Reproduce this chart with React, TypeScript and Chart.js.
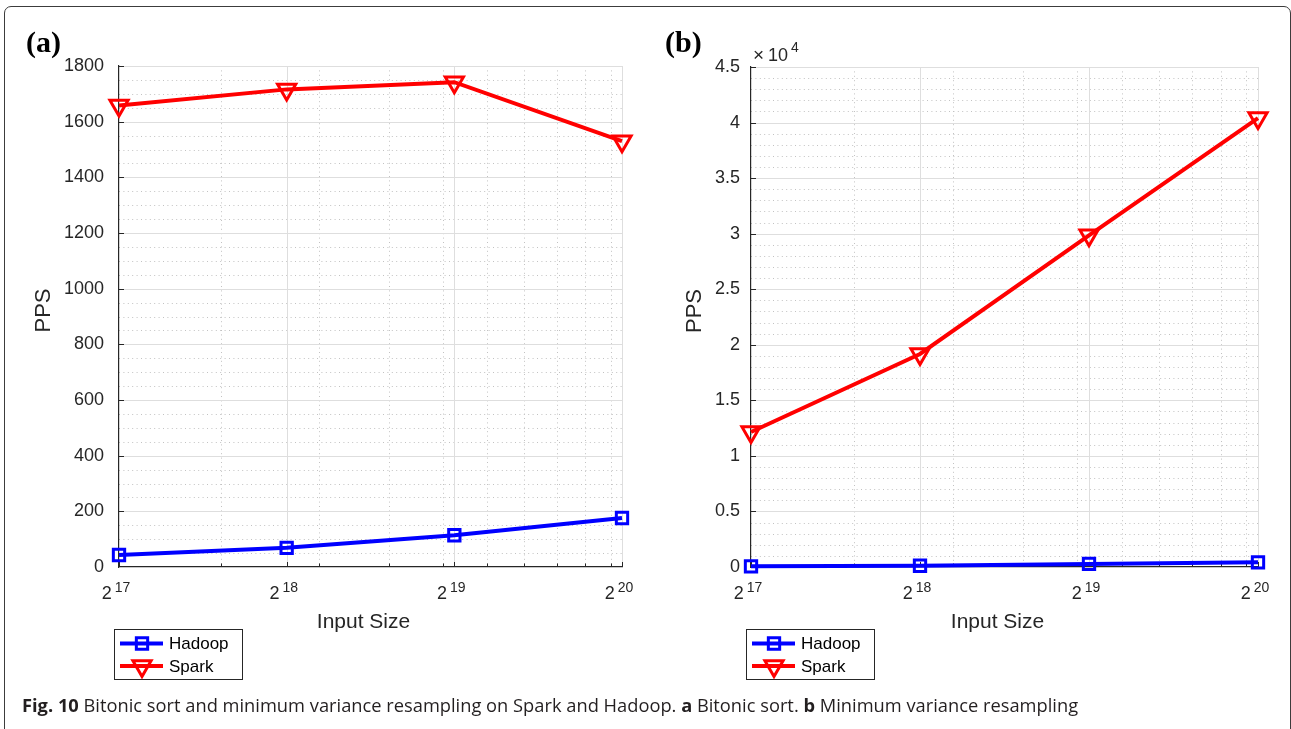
import React, { useEffect, useRef } from 'react';
import { Chart, registerables } from 'chart.js';

Chart.register(...registerables);

// ---- data ----
const exponents = [17, 18, 19, 20];
const inputSizes = [131072, 262144, 524288, 1048576];
const minorXTicks = [200000, 300000, 400000, 500000, 600000, 700000, 800000, 900000, 1000000];
const seriesNames = ['Hadoop', 'Spark'];
const hadoopBitonic = [43, 69, 114, 176];
const sparkBitonic = [1658, 1716, 1742, 1530];
const hadoopMVR = [60, 110, 280, 420];
const sparkMVR = [12150, 19170, 29850, 40400];
const xTitle = 'Input Size';
const yTitle = 'PPS';

const FONT = '"Liberation Sans", Arial, Helvetica, sans-serif';
const AX = '#262626';

type PanelCfg = {
  id: string;
  label: string;
  left: number;
  width: number;
  yMax: number;
  yMajor: number;
  yMinor: number;
  hadoop: number[];
  spark: number[];
  tickPad: number;
  yWidth: number;
  padRight: number;
  padTop: number;
  ppsX: number;
  labelX: number;
  divisor: number;
  showExp: boolean;
};

function drawMarker(ctx: CanvasRenderingContext2D, style: string, x: number, y: number, r: number, bw: number, color: string) {
  ctx.save();
  ctx.strokeStyle = color;
  ctx.lineWidth = bw;
  ctx.setLineDash([]);
  ctx.beginPath();
  if (style === 'rect') {
    const s = r * Math.SQRT1_2;
    ctx.rect(x - s, y - s, 2 * s, 2 * s);
  } else {
    for (let k = 0; k < 3; k++) {
      const ang = Math.PI + (k * 2 * Math.PI) / 3;
      const px = x + Math.sin(ang) * r;
      const py = y - Math.cos(ang) * r;
      if (k === 0) ctx.moveTo(px, py);
      else ctx.lineTo(px, py);
    }
    ctx.closePath();
  }
  ctx.stroke();
  ctx.restore();
}

function decorPlugin(cfg: PanelCfg) {
  return {
    id: 'decor_' + cfg.id,
    beforeDraw(chart: any) {
      const { ctx, chartArea: a } = chart;
      const xs = chart.scales.x;
      const ys = chart.scales.y;
      const snap = (p: number) => Math.round(p) + 0.5;
      const seg = (x1: number, y1: number, x2: number, y2: number) => {
        ctx.beginPath();
        ctx.moveTo(x1, y1);
        ctx.lineTo(x2, y2);
        ctx.stroke();
      };
      const n = Math.round(cfg.yMax / cfg.yMinor);
      const ratio = Math.round(cfg.yMajor / cfg.yMinor);
      ctx.save();
      ctx.lineWidth = 1;
      // minor grid (dotted)
      ctx.strokeStyle = '#c2c2c2';
      ctx.setLineDash([1, 3.4]);
      for (let i = 1; i < n; i++) {
        if (i % ratio) {
          const y = snap(ys.getPixelForValue(i * cfg.yMinor));
          seg(a.left, y, a.right, y);
        }
      }
      minorXTicks.forEach((v) => {
        const x = snap(xs.getPixelForValue(v));
        seg(x, a.top, x, a.bottom);
      });
      // major grid (solid)
      ctx.setLineDash([]);
      ctx.strokeStyle = '#dedede';
      for (let i = ratio; i <= n; i += ratio) {
        const y = snap(ys.getPixelForValue(i * cfg.yMinor));
        seg(a.left, y, a.right, y);
      }
      inputSizes.slice(1).forEach((v) => {
        const x = snap(xs.getPixelForValue(v));
        seg(x, a.top, x, a.bottom);
      });
      // tick marks (inward)
      ctx.strokeStyle = AX;
      for (let i = ratio; i <= n; i += ratio) {
        const y = snap(ys.getPixelForValue(i * cfg.yMinor));
        seg(a.left, y, a.left + 5, y);
      }
      inputSizes.forEach((v) => {
        const x = snap(xs.getPixelForValue(v));
        seg(x, a.bottom, x, a.bottom - 5);
      });
      minorXTicks.forEach((v) => {
        const x = snap(xs.getPixelForValue(v));
        seg(x, a.bottom, x, a.bottom - 3.5);
      });
      ctx.restore();
    },
    afterDraw(chart: any) {
      const { ctx, chartArea: a } = chart;
      const xs = chart.scales.x;
      ctx.save();
      ctx.fillStyle = AX;
      ctx.textBaseline = 'alphabetic';
      // x tick labels 2^n
      inputSizes.forEach((v, i) => {
        const x = xs.getPixelForValue(v);
        const base = '2';
        const sup = String(exponents[i]);
        ctx.font = `18px ${FONT}`;
        const w1 = ctx.measureText(base).width;
        ctx.font = `14px ${FONT}`;
        const w2 = ctx.measureText(sup).width;
        const gap = 3;
        const start = x - 3 - (w1 + gap + w2) / 2;
        ctx.textAlign = 'left';
        ctx.font = `18px ${FONT}`;
        ctx.fillText(base, start, 599);
        ctx.font = `14px ${FONT}`;
        ctx.fillText(sup, start + w1 + gap, 592);
      });
      // x title
      ctx.font = `21px ${FONT}`;
      ctx.textAlign = 'center';
      ctx.fillText(xTitle, (a.left + a.right) / 2 - 7, 628);
      // y title
      ctx.save();
      ctx.translate(cfg.ppsX, (a.top + a.bottom) / 2 - 6);
      ctx.rotate(-Math.PI / 2);
      ctx.font = `22px ${FONT}`;
      ctx.textAlign = 'center';
      ctx.fillText(yTitle, 0, 0);
      ctx.restore();
      // exponent label
      if (cfg.showExp) {
        ctx.textAlign = 'left';
        ctx.font = `19px ${FONT}`;
        ctx.fillText('\u00d7', a.left + 2, 61);
        ctx.font = `18px ${FONT}`;
        ctx.fillText('10', a.left + 17, 61);
        const w = ctx.measureText('10').width;
        ctx.font = `14px ${FONT}`;
        ctx.fillText('4', a.left + 17 + w + 3, 52);
      }
      // panel label
      ctx.fillStyle = '#000';
      ctx.font = `bold 30px "Liberation Serif", "Times New Roman", serif`;
      ctx.textAlign = 'left';
      ctx.fillText(cfg.label, cfg.labelX, 52);
      // legend
      const lx = Math.round(a.left) - 5;
      const ly = 629;
      const lw = 128;
      const lh = 50;
      ctx.fillStyle = '#fff';
      ctx.fillRect(lx, ly, lw, lh);
      ctx.strokeStyle = AX;
      ctx.lineWidth = 1;
      ctx.strokeRect(lx + 0.5, ly + 0.5, lw, lh);
      chart.data.datasets.forEach((ds: any, i: number) => {
        const y = ly + 14.5 + i * 22.5;
        ctx.strokeStyle = ds.borderColor;
        ctx.lineWidth = ds.borderWidth;
        ctx.beginPath();
        ctx.moveTo(lx + 6, y);
        ctx.lineTo(lx + 49, y);
        ctx.stroke();
        drawMarker(ctx, ds.pointStyle, lx + 28, y, ds.pointRadius, ds.pointBorderWidth, ds.pointBorderColor);
        ctx.fillStyle = '#000';
        ctx.font = `17px ${FONT}`;
        ctx.textAlign = 'left';
        ctx.textBaseline = 'middle';
        ctx.fillText(ds.label, lx + 55, y + 1);
        ctx.textBaseline = 'alphabetic';
      });
      ctx.restore();
    },
  };
}

const panels: PanelCfg[] = [
  {
    id: 'a', label: '(a)', left: 0, width: 645, yMax: 1800, yMajor: 200, yMinor: 50,
    hadoop: hadoopBitonic, spark: sparkBitonic, tickPad: 15, yWidth: 119, padRight: 23, padTop: 66,
    ppsX: 50, labelX: 26, divisor: 1, showExp: false,
  },
  {
    id: 'b', label: '(b)', left: 645, width: 646, yMax: 45000, yMajor: 5000, yMinor: 1000,
    hadoop: hadoopMVR, spark: sparkMVR, tickPad: 11, yWidth: 106, padRight: 33, padTop: 67,
    ppsX: 56, labelX: 20, divisor: 10000, showExp: true,
  },
];

function Panel({ cfg }: { cfg: PanelCfg }) {
  const ref = useRef<HTMLCanvasElement>(null);
  useEffect(() => {
    const toPts = (arr: number[]) => arr.map((y, i) => ({ x: inputSizes[i], y }));
    const chart = new Chart(ref.current as HTMLCanvasElement, {
      type: 'line',
      data: {
        datasets: [
          {
            label: seriesNames[0],
            data: toPts(cfg.hadoop),
            borderColor: '#0000ff',
            borderWidth: 4,
            pointStyle: 'rect',
            pointRadius: 8,
            pointBorderWidth: 3,
            pointBorderColor: '#0000ff',
            pointBackgroundColor: 'rgba(0,0,0,0)',
            clip: false,
            tension: 0,
          } as any,
          {
            label: seriesNames[1],
            data: toPts(cfg.spark),
            borderColor: '#ff0000',
            borderWidth: 4,
            pointStyle: 'triangle',
            pointRotation: 180,
            pointRadius: 10.5,
            pointBorderWidth: 3,
            pointBorderColor: '#ff0000',
            pointBackgroundColor: 'rgba(0,0,0,0)',
            clip: false,
            tension: 0,
          } as any,
        ],
      },
      options: {
        animation: false,
        responsive: true,
        maintainAspectRatio: false,
        layout: { padding: { left: 0, top: cfg.padTop, right: cfg.padRight, bottom: 162 } },
        plugins: { legend: { display: false }, tooltip: { enabled: false } },
        scales: {
          x: {
            type: 'logarithmic',
            min: inputSizes[0],
            max: inputSizes[inputSizes.length - 1],
            ticks: { display: false },
            grid: { display: false, drawTicks: false },
            border: { display: true, color: AX, width: 1.2 },
            afterFit: (s: any) => { s.height = 0; },
          },
          y: {
            type: 'linear',
            min: 0,
            max: cfg.yMax,
            ticks: {
              stepSize: cfg.yMajor,
              padding: cfg.tickPad,
              color: AX,
              font: { family: FONT, size: 18 },
              autoSkip: false,
              callback: (v: any) => String(Number(v) / cfg.divisor),
            },
            grid: { display: false, drawTicks: false },
            border: { display: true, color: AX, width: 1.2 },
            afterFit: (s: any) => { s.width = cfg.yWidth; },
          },
        },
      } as any,
      plugins: [decorPlugin(cfg)],
    });
    return () => chart.destroy();
  }, []);
  return (
    <div style={{ position: 'absolute', left: cfg.left, top: 0, width: cfg.width, height: 729 }}>
      <canvas ref={ref} />
    </div>
  );
}

export default function App() {
  return (
    <div style={{ position: 'fixed', left: 0, top: 0, width: 1291, height: 729, background: '#fff', overflow: 'hidden' }}>
      <div
        style={{
          position: 'absolute', left: 4, top: 6, width: 1287, height: 760, boxSizing: 'border-box',
          border: '1.5px solid #3c3c3c', borderRadius: 7,
        }}
      />
      {panels.map((p) => (
        <Panel key={p.id} cfg={p} />
      ))}
      <div
        style={{
          position: 'absolute', left: 22, top: 696, whiteSpace: 'nowrap', fontFamily: '"Open Sans", "Noto Sans", sans-serif',
          fontSize: 18.3, lineHeight: '18.3px', color: '#231f20',
        }}
      >
        <b>Fig. 10</b> Bitonic sort and minimum variance resampling on Spark and Hadoop. <b>a</b> Bitonic sort. <b>b</b> Minimum variance resampling
      </div>
    </div>
  );
}
